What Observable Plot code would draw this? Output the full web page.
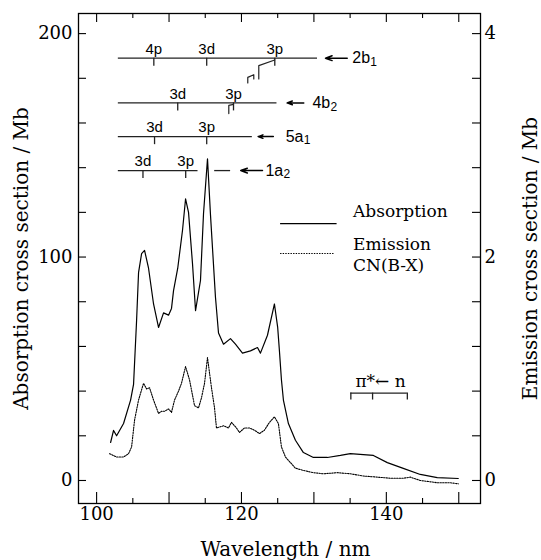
<!DOCTYPE html>
<html>
<head>
<meta charset="utf-8">
<script src="https://cdn.jsdelivr.net/npm/d3@7"></script>
<script src="https://cdn.jsdelivr.net/npm/@observablehq/plot@0.6"></script>
<style>
  html, body { margin: 0; padding: 0; background: white; }
</style>
</head>
<body>
<div id="chart"></div>
<script>
// ---- Data ----
// Absorption cross section (Mb) vs wavelength (nm)
const wavelengthAbs = [101.93, 102.34, 102.76, 103.72, 104.69, 105.10, 105.52, 105.79, 106.21, 106.62,
  107.17, 107.86, 108.55, 109.24, 109.93, 110.34, 110.62, 111.20, 111.86, 112.28, 112.69, 113.24,
  113.66, 114.34, 114.76, 115.31, 115.72, 116.41, 116.83, 117.52, 118.48, 119.17, 120.14, 121.24,
  122.21, 122.62, 123.59, 124.55, 125.00, 125.24, 125.52, 125.79, 126.48, 127.45, 128.55, 129.93,
  131.86, 133.66, 135.03, 136.83, 138.21, 140.14, 142.34, 144.69, 147.03, 149.93];
const absorption = [17, 22.4, 20, 25.5, 36, 43, 71.6, 93, 101.5, 103,
  95, 79, 68.5, 75, 74, 77, 85, 95, 112, 126, 120, 97,
  76, 89.5, 119.5, 144, 119, 82, 66, 61, 63.5, 61, 57, 58,
  59.5, 57, 65, 79, 68.5, 58, 45, 36, 25.5, 18, 12.5, 10.3,
  10.3, 11.2, 12, 11.6, 11.2, 8, 5.4, 2.7, 1.3, 0.9];

// Emission cross section CN(B-X) (Mb) vs wavelength (nm)
const wavelengthEm = [101.79, 102.76, 103.72, 104.41, 104.83, 105.24, 105.79, 106.48, 106.90, 107.31,
  107.86, 108.55, 108.97, 109.38, 109.93, 110.34, 110.76, 111.31, 111.72, 112.28, 112.83, 113.52,
  114.07, 114.48, 114.90, 115.31, 115.86, 116.28, 116.55, 117.52, 118.21, 118.62, 119.31, 119.72,
  120.41, 121.10, 121.79, 122.48, 123.17, 123.86, 124.55, 125.10, 125.52, 126.07, 126.76, 127.45,
  128.55, 129.93, 131.31, 133.24, 135.03, 136.83, 138.76, 140.55, 142.34, 143.31, 144.69, 147.03,
  148.83, 149.93];
const emission = [0.24, 0.21, 0.21, 0.24, 0.30, 0.54, 0.72, 0.87, 0.82, 0.83,
  0.72, 0.60, 0.62, 0.62, 0.64, 0.61, 0.72, 0.80, 0.87, 1.02, 0.90, 0.67,
  0.65, 0.74, 0.87, 1.10, 0.83, 0.65, 0.47, 0.49, 0.47, 0.52, 0.47, 0.43,
  0.47, 0.47, 0.45, 0.42, 0.45, 0.52, 0.57, 0.51, 0.30, 0.21, 0.16, 0.11,
  0.09, 0.07, 0.06, 0.07, 0.06, 0.04, 0.03, 0.02, 0.02, 0.03, 0.00, -0.02,
  -0.02, -0.03];

// Axis ticks
const xTickLabels = [100, 120, 140];
const xMajorTicks = [100, 110, 120, 130, 140, 150];
const xMinorTicks = [105, 115, 125, 135, 145];
const yTicks = [0, 20, 40, 60, 80, 100, 120, 140, 160, 180, 200];
const yTickLabels = [0, 100, 200];
const y2TickLabels = [0, 2, 4];

// Rydberg series assignments
const seriesOrbital = ["2b", "4b", "5a", "1a"];
const seriesSub = ["1", "2", "1", "2"];
const seriesLevel = [189, 169, 153.9, 138.7];
const rydbergOrbital = ["2b", "2b", "2b", "4b", "4b", "5a", "5a", "1a", "1a"];
const rydbergState = ["4p", "3d", "3p", "3d", "3p", "3d", "3p", "3d", "3p"];
const rydbergWavelength = [107.9, 115.2, 124.6, 111.2, 118.9, 108.0, 115.2, 106.4, 112.3];

// ---- Layout ----
const W = 541, H = 560;
const mL = 78, mR = 61, mT = 13, mB = 57;
const plotH = H - mT - mB;
const emissionFactor = 200 / 4; // left axis 200 Mb <-> right axis 4 Mb

const absData = wavelengthAbs.map((w, i) => ({w, v: absorption[i]}));
const emData = wavelengthEm.map((w, i) => ({w, v: emission[i] * emissionFactor}));

const levelOf = o => seriesLevel[seriesOrbital.indexOf(o)];
const rydData = rydbergState.map((s, i) => ({o: rydbergOrbital[i], s, w: rydbergWavelength[i], y: levelOf(rydbergOrbital[i])}));

// annotation geometry (nm / Mb)
const seriesLines = [
  {x1: 103.0, x2: 130.5, y: 189},
  {x1: 103.0, x2: 124.9, y: 169},
  {x1: 103.0, x2: 121.5, y: 153.9},
  {x1: 103.0, x2: 114.0, y: 138.7},
  {x1: 116.3, x2: 118.5, y: 138.7}
];
const seriesArrows = [
  {x1: 134.6, x2: 131.6, y: 189, lx: 135.3},
  {x1: 128.6, x2: 126.3, y: 169, lx: 129.8},
  {x1: 124.4, x2: 122.3, y: 153.9, lx: 126.1},
  {x1: 122.9, x2: 119.9, y: 138.7, lx: 123.3}
];
const tickLen = 3.6;
const stairA = [[120.87, 177.9], [120.87, 180.4], [121.70, 181.6], [121.70, 179.7]];
const stairB = [[122.39, 179.7], [122.39, 185.7], [124.59, 188.2]];
const extra4b = [[118.25, 164.2], [118.25, 167.9], [118.9, 168.3]];

const serif = "DejaVu Serif";
const sans = "Liberation Sans";

const chart = Plot.plot({
  width: W, height: H,
  marginLeft: mL, marginRight: mR, marginTop: mT, marginBottom: mB,
  x: {domain: [97.5, 153], axis: null},
  y: {domain: [-10.3, 209], axis: null},
  style: {fontFamily: serif, background: "white", color: "black"},
  marks: [
    Plot.frame({stroke: "black", strokeWidth: 1.3}),
    // ticks (inward)
    Plot.tickX(xMajorTicks, {x: d => d, insetTop: plotH - 11, stroke: "black", strokeWidth: 1.1}),
    Plot.tickX(xMinorTicks, {x: d => d, insetTop: plotH - 5, stroke: "black", strokeWidth: 1.1}),
    Plot.tickX(xMajorTicks, {x: d => d, insetBottom: plotH - 9, stroke: "black", strokeWidth: 1.1}),
    Plot.tickX(xMinorTicks, {x: d => d, insetBottom: plotH - 5, stroke: "black", strokeWidth: 1.1}),
    Plot.tickY(yTicks, {y: d => d, insetRight: W - mL - mR - 8, stroke: "black", strokeWidth: 1.1}),
    Plot.tickY(yTicks, {y: d => d, insetLeft: W - mL - mR - 8, stroke: "black", strokeWidth: 1.1}),
    // tick labels
    Plot.text(xTickLabels, {x: d => d, frameAnchor: "bottom", lineAnchor: "top", dy: 4, fontSize: 18}),
    Plot.text(yTickLabels, {y: d => d, frameAnchor: "left", textAnchor: "end", dx: -6, fontSize: 18}),
    Plot.text(y2TickLabels, {y: d => d * emissionFactor, frameAnchor: "right", textAnchor: "start", dx: 4, fontSize: 18, text: d => String(d)}),
    // axis titles
    Plot.text(["Wavelength / nm"], {frameAnchor: "bottom", textAnchor: "middle", lineAnchor: "bottom", dx: 6, dy: 52, fontSize: 20}),
    Plot.text(["Absorption cross section / Mb"], {frameAnchor: "left", textAnchor: "middle", rotate: -90, dx: -57, fontSize: 20}),
    Plot.text(["Emission cross section / Mb"], {frameAnchor: "right", textAnchor: "middle", rotate: -90, dx: 50, fontSize: 20}),
    // data
    Plot.line(emData, {x: "w", y: "v", stroke: "black", strokeWidth: 1.1, strokeDasharray: "1.4,1.2"}),
    Plot.line(absData, {x: "w", y: "v", stroke: "black", strokeWidth: 1.2}),
    // Rydberg series annotations
    Plot.ruleY(seriesLines, {x1: "x1", x2: "x2", y: "y", stroke: "#222", strokeWidth: 1.3}),
    Plot.ruleX(rydData, {x: "w", y1: "y", y2: d => d.y - tickLen, stroke: "#222", strokeWidth: 1.3}),
    Plot.text(rydData, {x: "w", y: "y", text: "s", dy: -9, fontFamily: sans, fontSize: 15}),
    Plot.arrow(seriesArrows, {x1: "x1", x2: "x2", y1: "y", y2: "y", stroke: "black", strokeWidth: 1.5, headLength: 7, headAngle: 40}),
    Plot.text(seriesArrows, {x: "lx", y: "y", text: (d, i) => seriesOrbital[i], textAnchor: "start", fontFamily: sans, fontSize: 16}),
    Plot.text(seriesArrows, {x: "lx", y: "y", text: (d, i) => seriesSub[i], textAnchor: "start", dx: 18, dy: 4, fontFamily: sans, fontSize: 12}),
    Plot.line(stairA, {x: d => d[0], y: d => d[1], stroke: "#222", strokeWidth: 1.2}),
    Plot.line(stairB, {x: d => d[0], y: d => d[1], stroke: "#222", strokeWidth: 1.2}),
    Plot.line(extra4b, {x: d => d[0], y: d => d[1], stroke: "#222", strokeWidth: 1.2}),
    // legend
    Plot.ruleY([115], {x1: 125.4, x2: 133.2, stroke: "black", strokeWidth: 1.3}),
    Plot.ruleY([101.6], {x1: 125.4, x2: 132.8, stroke: "black", strokeWidth: 1.1, strokeDasharray: "1.4,1.2"}),
    Plot.text(["Absorption"], {x: 135.4, y: 120.4, textAnchor: "start", fontSize: 17}),
    Plot.text(["Emission"], {x: 135.4, y: 105.8, textAnchor: "start", fontSize: 17}),
    Plot.text(["CN(B-X)"], {x: 135.4, y: 96.2, textAnchor: "start", fontSize: 17}),
    // pi* <- n bracket
    Plot.ruleY([39.1], {x1: 135.1, x2: 142.9, stroke: "#222", strokeWidth: 1.3}),
    Plot.ruleX([135.1, 138.1, 142.9], {x: d => d, y1: 39.1, y2: 36.0, stroke: "#222", strokeWidth: 1.3}),
    Plot.text(["π*← n"], {x: 139.2, y: 44.3, fontSize: 17})
  ]
});
document.getElementById("chart").appendChild(chart);
</script>
</body>
</html>
